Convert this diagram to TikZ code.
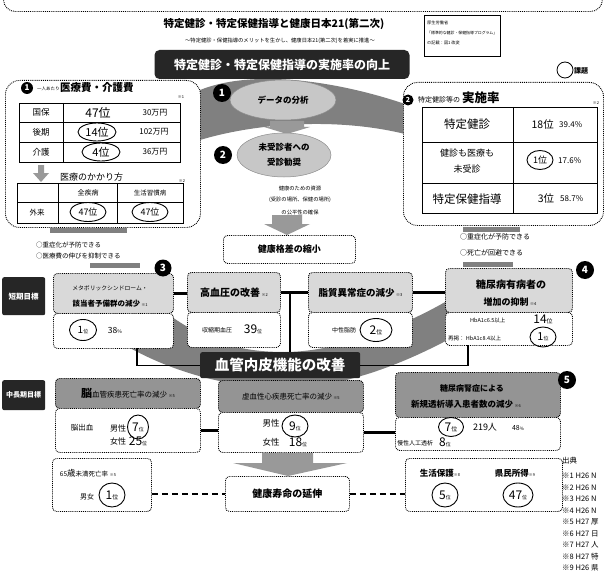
\documentclass[tikz,border=0pt]{standalone}
\usepackage{fontspec}
\setmainfont{Noto Sans CJK JP}
\usetikzlibrary{shapes.geometric}
\newcommand\fsz[1]{\fontsize{#1}{#1}\selectfont}
\newcommand\rnk[3]{{\fsz{#1}#3}{\fsz{#2}位}}
\definecolor{band}{gray}{0.5}
\definecolor{lite}{gray}{0.85}
\definecolor{mid}{gray}{0.58}
\definecolor{dark}{gray}{0.15}
\definecolor{ell}{gray}{0.78}
\definecolor{agray}{gray}{0.6}
\begin{document}
\begin{tikzpicture}[x=1pt,y=-1pt,
  bxn/.style={draw, densely dotted, line width=0.9pt, rounded corners=4pt, anchor=north west, inner sep=0pt, fill=white},
  tx/.style={inner sep=0pt, font=\fsz{#1}},
  rk/.style={ellipse, draw, line width=0.9pt, inner sep=0pt},
  bdg/.style={circle, fill=black, text=white, inner sep=0pt, font=\bfseries\fsz{#1}},
  conn/.style={line width=2.4pt},
  brk/.style={line width=1.4pt},
  dconn/.style={line width=2.4pt, dash pattern=on 6pt off 4pt},
  tbl/.style={line width=0.9pt}]
\useasboundingbox (0,0) rectangle (605,583);
\fill[white] (0,0) rectangle (605,583);

% background bands
\fill[band] (200,90) .. controls (255,68) and (340,82) .. (405,104) -- (405,134) .. controls (340,118) and (260,122) .. (200,140) -- cycle;
\fill[band] (165,312) .. controls (210,345) and (245,352) .. (285,352) .. controls (330,352) and (395,332) .. (452,298) -- (455,336) .. controls (400,366) and (340,388) .. (285,388) .. controls (225,388) and (170,370) .. (130,348) -- cycle;

% top frame
\node[draw, densely dotted, line width=0.9pt, rounded corners=12pt, anchor=south west, minimum width=599pt, minimum height=45pt] (frame) at (3,12) {};

% title
\node[tx=10.5, font=\bfseries\fsz{10.5}] (title) at (274,24) {特定健診・特定保健指導と健康日本21(第二次)};
\node[tx=5.3] (subt) at (280,41) {～特定健診・保健指導のメリットを生かし、健康日本21(第二次)を着実に推進～};
\node[fill=dark, rounded corners=5pt, minimum width=255pt, minimum height=29pt, text=white, font=\bfseries\fsz{12}, inner sep=0pt] (ban1) at (282,64.5) {特定健診・特定保健指導の実施率の向上};

% reference box
\node[draw, line width=0.6pt, anchor=north west, minimum width=76pt, minimum height=41pt] (refb) at (424,15) {};
\node[tx=4.2, anchor=west] (ref1) at (427,23) {厚生労働省};
\node[tx=3.9, anchor=west] (ref2) at (427,33) {「標準的な健診・保健指導プログラム」};
\node[tx=4.2, anchor=west] (ref3) at (427,43) {の記載：図1 改変};

% legend
\node[draw, circle, line width=0.8pt, minimum size=16pt] (kc) at (565,70) {};
\node[tx=7, anchor=west, font=\bfseries\fsz{7}] (kt) at (574,71) {課題};

% left box 1
\node[bxn, rounded corners=14pt, minimum width=195pt, minimum height=147pt] (lbox) at (5,80) {};
\node[bdg=8, minimum size=12pt] (n1s) at (27,88) {1};
\node[tx=4.5, anchor=west] (lh1) at (37,89) {一人あたり};
\node[tx=10.5, anchor=west, font=\bfseries\fsz{10.5}] (lh2) at (60,88) {医療費・介護費};
\node[tx=4] (lh3) at (181,97) {※1};
\draw[tbl] (19,103) rectangle (180,162);
\draw[tbl] (19,122) -- (180,122) (19,142) -- (180,142) (63,103) -- (63,162);
\node[tx=8.5] (c11) at (41,112.5) {国保};
\node[tx=12] (c12) at (98,112.5) {47位};
\node[tx=8] (c13) at (155,112.5) {30万円};
\node[tx=8.5] (c21) at (41,132) {後期};
\node[rk, tx=11, minimum width=38pt, minimum height=18pt] (c22) at (97,132) {14位};
\node[tx=8] (c23) at (154,132) {102万円};
\node[tx=8.5] (c31) at (41,152) {介護};
\node[rk, tx=11, minimum width=38pt, minimum height=18pt] (c32) at (101,152) {4位};
\node[tx=8] (c33) at (155,152) {36万円};
\fill[agray] (38,165) -- (44,165) -- (44,173) -- (49,173) -- (41,182) -- (33,173) -- (38,173) -- cycle;
\node[tx=9, anchor=west] (lh4) at (60,177) {医療のかかり方};
\node[tx=4] (lh5) at (182,181) {※2};
\draw[tbl] (17,183) rectangle (183,223);
\draw[tbl] (17,202) -- (183,202) (58,183) -- (58,223) (117,183) -- (117,223);
\node[tx=7] (d12) at (88,193) {全疾病};
\node[tx=6.5] (d13) at (150,193) {生活習慣病};
\node[tx=7.5] (d21) at (37,213) {外来};
\node[rk, tx=9, minimum width=36pt, minimum height=19pt] (d22) at (88,212) {47位};
\node[rk, tx=9, minimum width=36pt, minimum height=19pt] (d23) at (150,212) {47位};

% ellipses
\node[ellipse, fill=ell, draw=black!45, line width=0.5pt, minimum width=106pt, minimum height=40pt, inner sep=0pt, font=\bfseries\fsz{8.5}] (e1) at (283,100) {データの分析};
\fill[agray] (270,121) -- (304,121) -- (304,127) -- (310,127) -- (287,134) -- (264,127) -- (270,127) -- cycle;
\node[ellipse, fill=ell, draw=black!45, line width=0.5pt, minimum width=94pt, minimum height=44pt, inner sep=0pt, align=center, font=\bfseries\fontsize{8.5}{15}\selectfont] (e2) at (284,155) {未受診者への\\受診勧奨};
\node[bdg=10, minimum size=18pt] (n1) at (222,93) {1};
\node[bdg=10, minimum size=18pt] (n2) at (223,155) {2};
\node[tx=5.3] (res1) at (300,188) {健康のための資源};
\node[tx=5.3] (res2) at (300,200) {(受診の場所、保健の場所)};
\node[tx=5.3] (res3) at (300,212) {の公平性の確保};
\fill[agray] (272,215) -- (302,215) -- (302,224) -- (310,224) -- (287,235) -- (264,224) -- (272,224) -- cycle;
\node[bxn, minimum width=132pt, minimum height=28pt, font=\bfseries\fsz{9}] (gbox) at (223,235) {健康格差の縮小};

% right box 2
\node[bxn, rounded corners=14pt, minimum width=200pt, minimum height=143pt] (rbox) at (403,82) {};
\node[bdg=7, minimum size=11pt] (n2s) at (408,100) {2};
\node[tx=7, anchor=base west] (rh1) at (418,103) {特定健診等の};
\node[tx=12.5, anchor=base west, font=\bfseries\fsz{12.5}] (rh2) at (462,103) {実施率};
\node[tx=4] (rh3) at (596,103) {※2};
\draw[tbl] (422,107) rectangle (597,213);
\draw[tbl] (422,142) -- (597,142) (422,183) -- (597,183) (513,107) -- (513,213);
\node[tx=11.5] (s11) at (467,124) {特定健診};
\node[tx=10.5, anchor=east] (s12) at (554,125) {18位};
\node[tx=8, anchor=west] (s13) at (559,125) {39.4\%};
\node[inner sep=0pt, align=center, font=\fontsize{9}{16}\selectfont] (s21) at (467,161) {健診も医療も\\未受診};
\node[rk, tx=9, minimum width=26pt, minimum height=19pt] (s22) at (540,160) {1位};
\node[tx=8, anchor=west] (s23) at (558,161) {17.6\%};
\node[tx=11.5] (s31) at (467,199) {特定保健指導};
\node[tx=10.5] (s32) at (546,199) {3位};
\node[tx=8, anchor=west] (s33) at (560,199) {58.7\%};

% bars and outcomes
\fill[band] (50,228) rectangle (127,233);
\fill[band] (90,263) rectangle (140,268);
\fill[band] (463,227) rectangle (520,232);
\fill[band] (463,262) rectangle (513,267);
\node[tx=6.5, anchor=west] (lt1) at (36,245) {○重症化が予防できる};
\node[tx=6.5, anchor=west] (lt2) at (36,256) {○医療費の伸びを抑制できる};
\node[tx=7, anchor=west] (rt1) at (460,237) {○重症化が予防できる};
\node[tx=7, anchor=west] (rt2) at (460,253) {○死亡が回避できる};

% side labels
\node[fill=dark, anchor=north west, minimum width=43pt, minimum height=38pt, text=white, font=\bfseries\fsz{7.5}, inner sep=0pt, rounded corners=2pt] (stl) at (2,277) {短期目標};
\node[fill=dark, anchor=north west, minimum width=43pt, minimum height=30pt, text=white, font=\bfseries\fsz{7}, inner sep=0pt, rounded corners=2pt] (mtl) at (2,380) {中長期目標};

% short-term boxes
\node[bxn, fill=lite, minimum width=120pt, minimum height=40pt] (b3h) at (53,273) {};
\node[tx=5.8] (b3t1) at (110,288) {メタボリックシンドローム・};
\node[tx=7.5, font=\bfseries\fsz{7.5}] (b3t2) at (110,304) {該当者予備群の減少\,{\mdseries\fsz{4}※1}};
\node[bxn, minimum width=120pt, minimum height=35pt] (b3b) at (53,313) {};
\node[rk, minimum width=27pt, minimum height=21pt] (b3r) at (83,330) {\rnk{10}{5}{1}};
\node[tx=8.5] (b3p) at (115,330) {38\fsz{5}\%};
\node[bdg=10, minimum size=17pt] (n3) at (163,268) {3};

\node[bxn, fill=lite, minimum width=93pt, minimum height=40pt, font=\bfseries\fsz{10}] (bph) at (187,272) {高血圧の改善\,{\mdseries\fsz{4}※2}};
\node[bxn, minimum width=93pt, minimum height=35pt] (bpb) at (187,312) {};
\node[tx=6] (bpt1) at (217,330) {収縮期血圧};
\node[inner sep=0pt] (bpt2) at (253,329) {\rnk{12}{5}{39}};

\node[bxn, fill=lite, minimum width=104pt, minimum height=40pt, font=\bfseries\fsz{9.5}] (blh) at (308,272) {脂質異常症の減少\,{\mdseries\fsz{4}※3}};
\node[bxn, minimum width=104pt, minimum height=35pt] (blb) at (308,312) {};
\node[tx=6] (blt1) at (344,330) {中性脂肪};
\node[rk, minimum width=32pt, minimum height=23pt] (blr) at (376,330) {\rnk{12}{6}{2}};

\node[bxn, fill=lite, minimum width=127pt, minimum height=44pt] (b4h) at (445,268) {};
\node[tx=10, font=\bfseries\fsz{10}] (b4t1) at (511,285) {糖尿病有病者の};
\node[tx=9, font=\bfseries\fsz{9}] (b4t2) at (510,302) {増加の抑制\,{\mdseries\fsz{4}※4}};
\node[bxn, minimum width=127pt, minimum height=33pt] (b4b) at (445,312) {};
\node[tx=5.5, anchor=west] (b4t3) at (470,320) {HbA1c6.5以上};
\node[inner sep=0pt] (b4t4) at (543,319) {\rnk{12}{6}{14}};
\node[tx=5.5, anchor=west] (b4t5) at (448,338) {再掲：\ HbA1c8.4以上};
\node[rk, minimum width=26pt, minimum height=20pt] (b4r) at (543,337) {\rnk{11}{5}{1}};
\node[bdg=10, minimum size=18pt] (n4) at (585,270) {4};

\draw[conn] (b3h.east) -- (b3h.east -| bph.west);
\draw[conn] (bph.east) -- (bph.east -| blh.west);
\draw[conn] (blh.east) -- (blh.east -| b4h.west);
\coordinate (mid1) at (290,292);
\coordinate (lk) at (137,348);
\coordinate (rkc) at (468,345);

% banner 2
\node[fill=dark, anchor=north west, minimum width=160pt, minimum height=26pt, text=white, font=\bfseries\fsz{14.5}, inner sep=0pt, rounded corners=2pt] (vb) at (200,352) {血管内皮機能の改善};
\draw[brk] (mid1) -- (mid1 |- vb.north);
\draw[brk] (lk) |- (vb.west);
\draw[brk] (rkc) |- (vb.east);

% mid-long-term boxes
\node[bxn, fill=mid, minimum width=145pt, minimum height=30pt] (bah) at (55,378) {{\bfseries\fsz{11}脳}{\fsz{7.5}血管疾患死亡率の減少}\,{\fsz{4}※5}};
\node[bxn, minimum width=145pt, minimum height=44pt] (bab) at (55,408) {};
\node[tx=7.5] (bat1) at (82,428) {脳出血};
\node[tx=8] (bat2) at (118,428) {男性};
\node[rk, minimum width=21pt, minimum height=24pt] (bar) at (138,427) {\rnk{12}{5}{7}};
\node[tx=8] (bat3) at (118,441) {女性};
\node[inner sep=0pt] (bat4) at (138,441) {\rnk{12}{5}{25}};

\node[bxn, fill=mid, minimum width=145pt, minimum height=32pt, font=\fsz{7.5}] (bbh) at (218,380) {虚血性心疾患死亡率の減少\,{\fsz{4}※5}};
\node[bxn, minimum width=145pt, minimum height=40pt] (bbb) at (218,412) {};
\node[tx=8.5] (bbt1) at (271,423) {男性};
\node[rk, minimum width=26pt, minimum height=22pt] (bbr) at (295,426) {\rnk{12}{5}{9}};
\node[tx=8.5] (bbt2) at (271,442) {女性};
\node[inner sep=0pt] (bbt3) at (298,442) {\rnk{12}{5}{18}};

\node[bxn, fill=mid, minimum width=165pt, minimum height=45pt] (b5h) at (395,372) {};
\node[tx=8, font=\bfseries\fsz{8}] (b5t1) at (472,388) {糖尿病腎症による};
\node[tx=8.5, font=\bfseries\fsz{8.5}] (b5t2) at (466,404) {新規透析導入患者数の減少\,{\mdseries\fsz{4}※6}};
\node[bxn, minimum width=165pt, minimum height=33pt] (b5b) at (395,417) {};
\node[rk, minimum width=25pt, minimum height=19pt] (b5r) at (451,427) {\rnk{12}{6}{7}};
\node[tx=9] (b5t3) at (485,427) {219人};
\node[tx=7] (b5t4) at (518,428) {48\fsz{4.5}\%};
\node[tx=6, anchor=west] (b5t5) at (397,443) {慢性人工透析};
\node[inner sep=0pt] (b5t6) at (445,442) {\rnk{12}{5}{8}};
\node[bdg=10, minimum size=18pt] (n5) at (567,380) {5};

\draw[conn] (bab.east) -- (bab.east -| bbb.west);
\draw[conn] (bbb.east) -- (bbb.east -| b5b.west);

\fill[agray] (262,453) -- (313,453) -- (313,463) -- (347,463) -- (288,476) -- (233,463) -- (262,463) -- cycle;

% bottom row
\node[bxn, minimum width=99pt, minimum height=53pt] (blow) at (52,458) {};
\node[inner sep=0pt] (blw1) at (88,473) {{\fsz{6.5}65}{\fsz{8.5}歳}{\fsz{6.5}未満死亡率}\,{\fsz{4}※5}};
\node[tx=7] (blw2) at (87,497) {男女};
\node[rk, minimum width=26pt, minimum height=24pt] (blw3) at (112,495) {\rnk{12}{6}{1}};

\node[bxn, minimum width=124pt, minimum height=35pt, font=\bfseries\fsz{10}] (bk) at (225,476) {健康寿命の延伸};

\node[bxn, minimum width=157pt, minimum height=53pt] (br) at (405,458) {};
\node[inner sep=0pt] (brt1) at (440,473) {{\bfseries\fsz{8.5}生活保護}{\fsz{4}※8}};
\node[inner sep=0pt] (brt2) at (515,473) {{\bfseries\fsz{8.5}県民所得}{\fsz{4}※9}};
\node[rk, minimum width=26pt, minimum height=24pt] (brr1) at (445,495) {\rnk{12}{5}{5}};
\node[rk, minimum width=30pt, minimum height=24pt] (brr2) at (518,495) {\rnk{12}{5}{47}};

\draw[dconn] (bk.west -| blow.east) -- (bk.west);
\draw[dconn] (bk.east) -- (bk.east -| br.west);

% sources (as far as the picture shows them)
\node[tx=7.5, anchor=west] (src0) at (562,461) {出典};
\node[tx=7.5, anchor=west] (src1) at (562,476) {※1 H26 N};
\node[tx=7.5, anchor=west] (src2) at (562,487.5) {※2 H26 N};
\node[tx=7.5, anchor=west] (src3) at (562,499) {※3 H26 N};
\node[tx=7.5, anchor=west] (src4) at (562,510.5) {※4 H26 N};
\node[tx=7.5, anchor=west] (src5) at (562,522) {※5 H27 厚};
\node[tx=7.5, anchor=west] (src6) at (562,533.5) {※6 H27 日};
\node[tx=7.5, anchor=west] (src7) at (562,545) {※7 H27 人};
\node[tx=7.5, anchor=west] (src8) at (562,556.5) {※8 H27 特};
\node[tx=7.5, anchor=west] (src9) at (562,568) {※9 H26 県};
\end{tikzpicture}
\end{document}
